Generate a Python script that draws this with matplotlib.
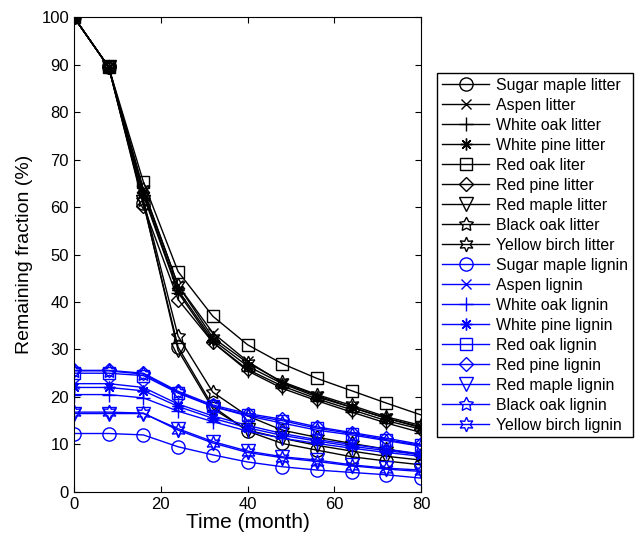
import numpy as np
import matplotlib.pyplot as plt

plt.rcParams['font.family'] = ['Liberation Sans', 'DejaVu Sans']

months = [0, 8, 16, 24, 32, 40, 48, 56, 64, 72, 80]

# litter (black)
sugar_maple_litter = [100, 89.5, 60.8, 30.5, 18.0, 12.8, 10.2, 8.8, 7.4, 6.5, 5.7]
aspen_litter = [100, 89.5, 63.5, 43.5, 33.5, 27.5, 23.0, 20.3, 17.8, 15.5, 13.5]
white_oak_litter = [100, 89.5, 62.5, 42.0, 31.5, 25.5, 21.8, 19.2, 16.8, 14.5, 12.5]
white_pine_litter = [100, 89.5, 63.0, 42.5, 32.0, 26.5, 22.8, 20.0, 17.8, 15.5, 13.7]
red_oak_litter = [100, 89.5, 65.3, 46.4, 37.0, 31.0, 27.0, 23.9, 21.3, 18.7, 16.2]
red_pine_litter = [100, 89.5, 60.3, 40.5, 31.5, 25.8, 22.3, 19.6, 17.3, 15.0, 13.2]
red_maple_litter = [100, 89.5, 61.0, 29.8, 17.5, 13.0, 11.3, 9.8, 8.6, 7.5, 6.7]
black_oak_litter = [100, 89.5, 61.5, 32.8, 21.0, 16.0, 13.0, 11.5, 10.2, 9.0, 7.8]
yellow_birch_litter = [100, 89.5, 63.8, 43.5, 32.5, 27.2, 23.2, 20.5, 18.2, 15.8, 14.0]

# lignin (blue)
sugar_maple_lignin = [12.3, 12.3, 12.0, 9.5, 7.8, 6.3, 5.3, 4.6, 4.1, 3.6, 2.9]
aspen_lignin = [22.8, 22.8, 22.0, 18.5, 16.0, 14.0, 12.3, 11.0, 10.0, 9.0, 8.0]
white_oak_lignin = [20.5, 20.5, 19.8, 17.0, 14.8, 12.8, 11.3, 10.2, 9.2, 8.3, 7.5]
white_pine_lignin = [22.0, 22.0, 21.3, 18.0, 15.5, 13.5, 11.9, 10.7, 9.6, 8.7, 7.8]
red_oak_lignin = [25.0, 25.0, 24.5, 20.8, 18.0, 16.2, 15.0, 13.4, 12.3, 11.0, 9.8]
red_pine_lignin = [25.6, 25.6, 25.0, 21.2, 18.3, 16.5, 15.3, 13.7, 12.5, 11.3, 10.0]
red_maple_lignin = [16.5, 16.5, 16.5, 13.3, 10.6, 8.6, 7.4, 6.7, 5.7, 5.0, 4.6]
black_oak_lignin = [25.5, 25.5, 24.8, 21.0, 18.0, 16.0, 14.5, 13.0, 12.0, 10.8, 9.6]
yellow_birch_lignin = [16.8, 16.8, 16.6, 13.0, 10.3, 8.3, 7.2, 6.4, 5.5, 4.8, 4.3]

litter = [
    ('Sugar maple litter', sugar_maple_litter),
    ('Aspen litter', aspen_litter),
    ('White oak litter', white_oak_litter),
    ('White pine litter', white_pine_litter),
    ('Red oak liter', red_oak_litter),
    ('Red pine litter', red_pine_litter),
    ('Red maple litter', red_maple_litter),
    ('Black oak litter', black_oak_litter),
    ('Yellow birch litter', yellow_birch_litter),
]
lignin = [
    ('Sugar maple lignin', sugar_maple_lignin),
    ('Aspen lignin', aspen_lignin),
    ('White oak lignin', white_oak_lignin),
    ('White pine lignin', white_pine_lignin),
    ('Red oak lignin', red_oak_lignin),
    ('Red pine lignin', red_pine_lignin),
    ('Red maple lignin', red_maple_lignin),
    ('Black oak lignin', black_oak_lignin),
    ('Yellow birch lignin', yellow_birch_lignin),
]

# matlab-ish markers: o x + * s d v p h
markers = ['o', 'x', '+', (8, 2, 0), 's', 'D', 'v', (5, 1, 0), (6, 1, 0)]
msizes = [9.5, 6.5, 9.5, 8.5, 8.5, 7.5, 9.5, 10.5, 10.5]

fig = plt.figure(figsize=(6.43, 5.37), dpi=100)
ax = fig.add_axes([0.115, 0.084, 0.540, 0.884])

for (name, vals), m, ms in zip(litter, markers, msizes):
    ax.plot(months, vals, color='black', marker=m, ms=ms, mfc='none',
            mew=1.0, lw=1.0, label=name)
for (name, vals), m, ms in zip(lignin, markers, msizes):
    ax.plot(months, vals, color='blue', marker=m, ms=ms, mfc='none',
            mew=1.0, lw=1.0, label=name)

ax.set_xlim(0, 80)
ax.set_ylim(0, 100)
ax.set_xticks(np.arange(0, 81, 20))
ax.set_yticks(np.arange(0, 101, 10))
ax.tick_params(direction='in', top=True, right=True, labelsize=12, length=4)
ax.set_xlabel('Time (month)', fontsize=15, labelpad=1)
ax.set_ylabel('Remaining fraction (%)', fontsize=14, labelpad=6)

fig.legend(loc='upper left', bbox_to_anchor=(0.680, 0.864), fontsize=11.4,
           frameon=True, fancybox=False, edgecolor='black', framealpha=1,
           handlelength=3.0, handletextpad=0.4, labelspacing=0.315,
           borderpad=0.3, borderaxespad=0)

fig.savefig('out.png', dpi=100)
